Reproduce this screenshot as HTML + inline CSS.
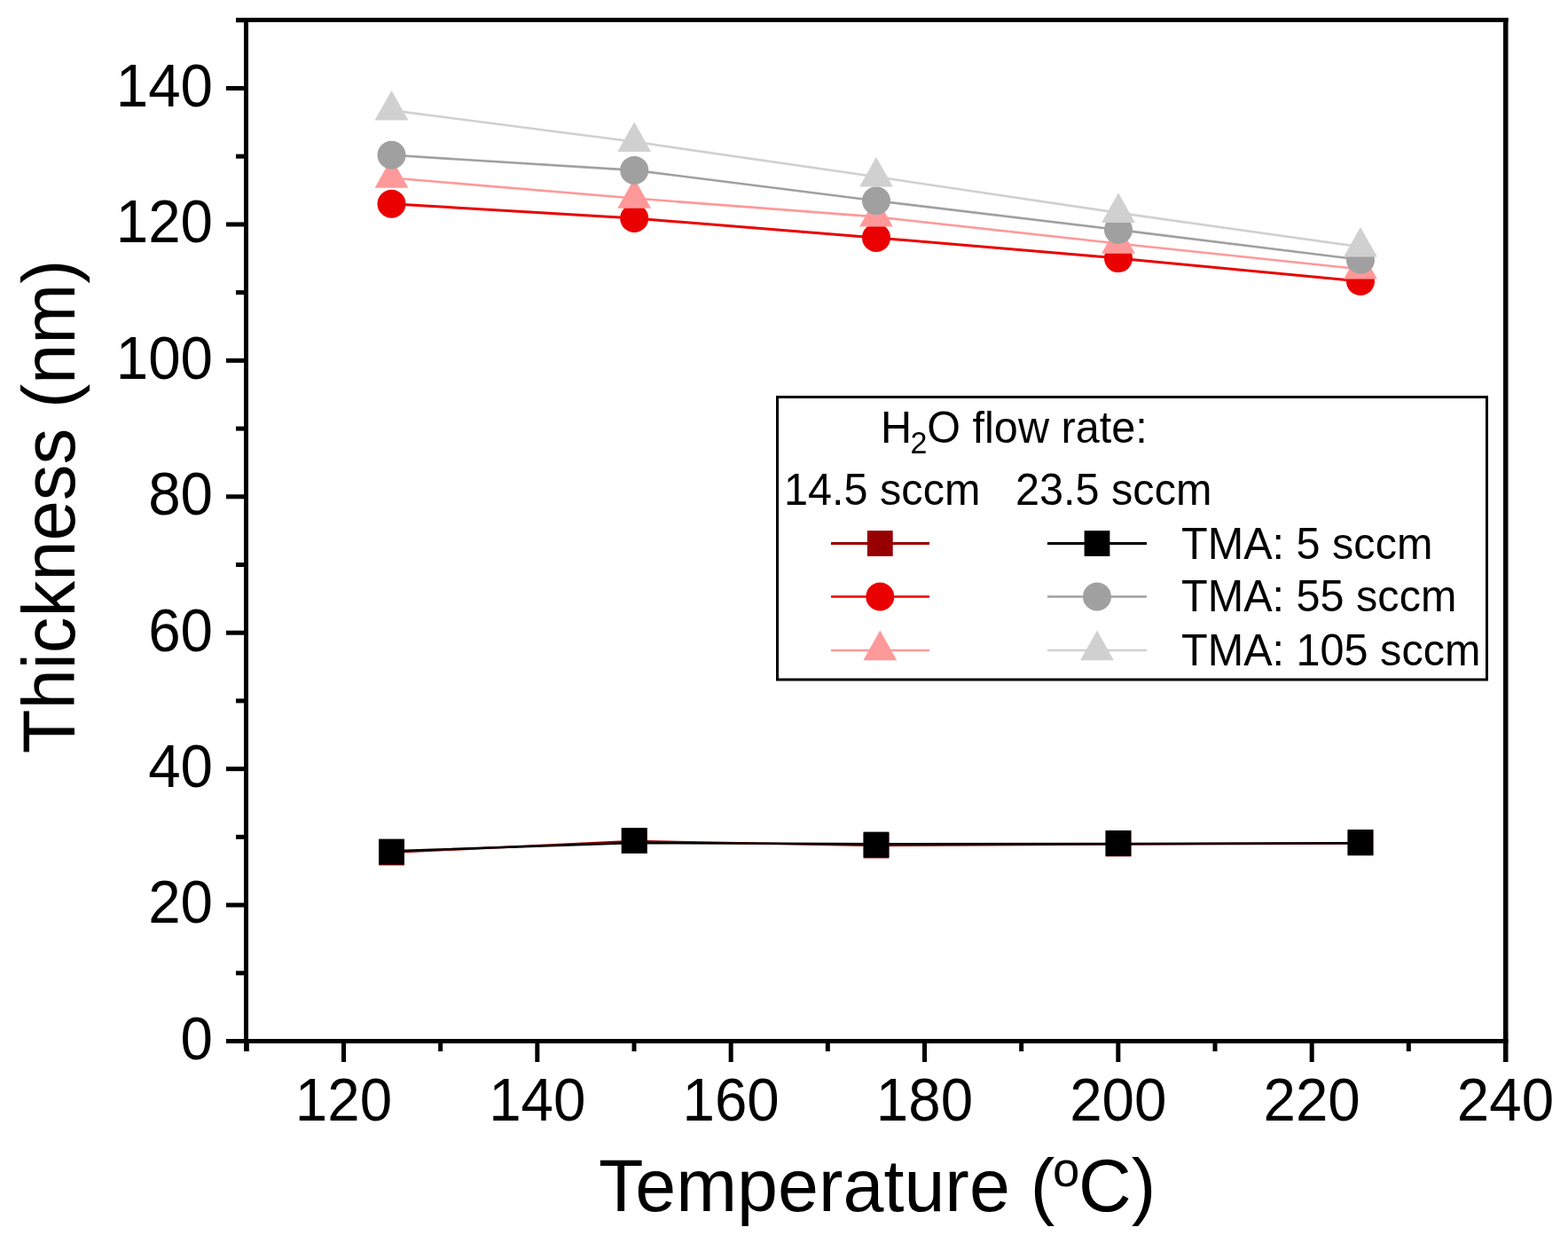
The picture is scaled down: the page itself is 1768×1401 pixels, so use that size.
<!DOCTYPE html><html><head><meta charset="utf-8"><title>Thickness vs Temperature</title><style>html,body{margin:0;padding:0;background:#fff;overflow:hidden;}svg{display:block;}text{font-family:"Liberation Sans",Arial,sans-serif;fill:#000;}</style></head><body>
<svg width="1768" height="1401" viewBox="0 0 1768 1401">
<rect x="0" y="0" width="1768" height="1401" fill="#fff"/>
<polyline points="441.50,960.80 715.20,948.00 988.00,953.00 1261.00,951.50 1534.00,950.50" fill="none" stroke="#960000" stroke-width="2.4" stroke-linejoin="round"/>
<rect x="427.10" y="946.60" width="28.80" height="28.80" fill="#960000"/>
<rect x="700.80" y="933.10" width="28.80" height="28.80" fill="#960000"/>
<rect x="973.60" y="938.60" width="28.80" height="28.80" fill="#960000"/>
<rect x="1246.60" y="936.60" width="28.80" height="28.80" fill="#960000"/>
<rect x="1519.60" y="935.60" width="28.80" height="28.80" fill="#960000"/>
<polyline points="441.50,229.80 715.20,246.00 988.00,267.90 1261.00,291.10 1534.00,317.00" fill="none" stroke="#EA0000" stroke-width="3" stroke-linejoin="round"/>
<circle cx="441.50" cy="229.80" r="16" fill="#EA0000"/>
<circle cx="715.20" cy="246.00" r="16" fill="#EA0000"/>
<circle cx="988.00" cy="267.90" r="16" fill="#EA0000"/>
<circle cx="1261.00" cy="291.10" r="16" fill="#EA0000"/>
<circle cx="1534.00" cy="317.00" r="16" fill="#EA0000"/>
<polyline points="441.50,200.50 715.20,223.50 988.00,244.40 1261.00,274.50 1534.00,303.40" fill="none" stroke="#FF9999" stroke-width="2.6" stroke-linejoin="round"/>
<polygon points="441.50,178.10 460.40,211.70 422.60,211.70" fill="#FF9999"/>
<polygon points="715.20,201.10 734.10,234.70 696.30,234.70" fill="#FF9999"/>
<polygon points="988.00,222.00 1006.90,255.60 969.10,255.60" fill="#FF9999"/>
<polygon points="1261.00,252.10 1279.90,285.70 1242.10,285.70" fill="#FF9999"/>
<polygon points="1534.00,281.00 1552.90,314.60 1515.10,314.60" fill="#FF9999"/>
<polyline points="441.50,959.30 715.20,950.00 988.00,951.20 1261.00,951.00 1534.00,950.30" fill="none" stroke="#000000" stroke-width="2.4" stroke-linejoin="round"/>
<rect x="427.10" y="945.60" width="28.80" height="28.80" fill="#000000"/>
<rect x="700.80" y="933.10" width="28.80" height="28.80" fill="#000000"/>
<rect x="973.60" y="937.60" width="28.80" height="28.80" fill="#000000"/>
<rect x="1246.60" y="936.00" width="28.80" height="28.80" fill="#000000"/>
<rect x="1519.60" y="935.00" width="28.80" height="28.80" fill="#000000"/>
<polyline points="441.50,174.80 715.20,191.90 988.00,226.30 1261.00,259.00 1534.00,292.70" fill="none" stroke="#A0A0A0" stroke-width="2.6" stroke-linejoin="round"/>
<circle cx="441.50" cy="174.80" r="16" fill="#A0A0A0"/>
<circle cx="715.20" cy="191.90" r="16" fill="#A0A0A0"/>
<circle cx="988.00" cy="226.30" r="16" fill="#A0A0A0"/>
<circle cx="1261.00" cy="259.00" r="16" fill="#A0A0A0"/>
<circle cx="1534.00" cy="292.70" r="16" fill="#A0A0A0"/>
<polyline points="441.50,124.40 715.20,159.80 988.00,199.30 1261.00,239.90 1534.00,278.30" fill="none" stroke="#D0D0D0" stroke-width="2.6" stroke-linejoin="round"/>
<polygon points="441.50,102.00 460.40,135.60 422.60,135.60" fill="#D0D0D0"/>
<polygon points="715.20,137.40 734.10,171.00 696.30,171.00" fill="#D0D0D0"/>
<polygon points="988.00,176.90 1006.90,210.50 969.10,210.50" fill="#D0D0D0"/>
<polygon points="1261.00,217.50 1279.90,251.10 1242.10,251.10" fill="#D0D0D0"/>
<polygon points="1534.00,255.90 1552.90,289.50 1515.10,289.50" fill="#D0D0D0"/>
<rect x="275" y="20" width="5" height="1165" fill="#000"/>
<rect x="266" y="20" width="1434.5" height="5" fill="#000"/>
<rect x="1695" y="20" width="5.5" height="1177" fill="#000"/>
<rect x="255" y="1171" width="1445.5" height="5" fill="#000"/>
<rect x="255" y="1171.00" width="22" height="5" fill="#000"/>
<rect x="266" y="1094.29" width="11" height="5" fill="#000"/>
<rect x="255" y="1017.57" width="22" height="5" fill="#000"/>
<rect x="266" y="940.86" width="11" height="5" fill="#000"/>
<rect x="255" y="864.14" width="22" height="5" fill="#000"/>
<rect x="266" y="787.43" width="11" height="5" fill="#000"/>
<rect x="255" y="710.71" width="22" height="5" fill="#000"/>
<rect x="266" y="634.00" width="11" height="5" fill="#000"/>
<rect x="255" y="557.29" width="22" height="5" fill="#000"/>
<rect x="266" y="480.57" width="11" height="5" fill="#000"/>
<rect x="255" y="403.86" width="22" height="5" fill="#000"/>
<rect x="266" y="327.14" width="11" height="5" fill="#000"/>
<rect x="255" y="250.43" width="22" height="5" fill="#000"/>
<rect x="266" y="173.71" width="11" height="5" fill="#000"/>
<rect x="255" y="97.00" width="22" height="5" fill="#000"/>
<rect x="266" y="20.29" width="11" height="5" fill="#000"/>
<rect x="275.83" y="1173" width="5" height="12" fill="#000"/>
<rect x="385.00" y="1173" width="5" height="24" fill="#000"/>
<rect x="494.17" y="1173" width="5" height="12" fill="#000"/>
<rect x="603.33" y="1173" width="5" height="24" fill="#000"/>
<rect x="712.50" y="1173" width="5" height="12" fill="#000"/>
<rect x="821.67" y="1173" width="5" height="24" fill="#000"/>
<rect x="930.83" y="1173" width="5" height="12" fill="#000"/>
<rect x="1040.00" y="1173" width="5" height="24" fill="#000"/>
<rect x="1149.17" y="1173" width="5" height="12" fill="#000"/>
<rect x="1258.33" y="1173" width="5" height="24" fill="#000"/>
<rect x="1367.50" y="1173" width="5" height="12" fill="#000"/>
<rect x="1476.67" y="1173" width="5" height="24" fill="#000"/>
<rect x="1585.83" y="1173" width="5" height="12" fill="#000"/>
<rect x="1695.00" y="1173" width="5" height="24" fill="#000"/>
<text transform="translate(240.00,1193.80) scale(1,1.045)" font-size="65.5" text-anchor="end">0</text>
<text transform="translate(240.00,1040.37) scale(1,1.045)" font-size="65.5" text-anchor="end">20</text>
<text transform="translate(240.00,886.94) scale(1,1.045)" font-size="65.5" text-anchor="end">40</text>
<text transform="translate(240.00,733.51) scale(1,1.045)" font-size="65.5" text-anchor="end">60</text>
<text transform="translate(240.00,580.09) scale(1,1.045)" font-size="65.5" text-anchor="end">80</text>
<text transform="translate(240.00,426.66) scale(1,1.045)" font-size="65.5" text-anchor="end">100</text>
<text transform="translate(240.00,273.23) scale(1,1.045)" font-size="65.5" text-anchor="end">120</text>
<text transform="translate(240.00,119.80) scale(1,1.045)" font-size="65.5" text-anchor="end">140</text>
<text transform="translate(387.50,1263.00) scale(1,1.045)" font-size="65.5" text-anchor="middle">120</text>
<text transform="translate(605.83,1263.00) scale(1,1.045)" font-size="65.5" text-anchor="middle">140</text>
<text transform="translate(824.17,1263.00) scale(1,1.045)" font-size="65.5" text-anchor="middle">160</text>
<text transform="translate(1042.50,1263.00) scale(1,1.045)" font-size="65.5" text-anchor="middle">180</text>
<text transform="translate(1260.83,1263.00) scale(1,1.045)" font-size="65.5" text-anchor="middle">200</text>
<text transform="translate(1479.17,1263.00) scale(1,1.045)" font-size="65.5" text-anchor="middle">220</text>
<text transform="translate(1697.50,1263.00) scale(1,1.045)" font-size="65.5" text-anchor="middle">240</text>
<text transform="translate(84.00,571.00) rotate(-90) scale(1,1.035)" font-size="81.45" text-anchor="middle">Thickness (nm)</text>
<text transform="translate(0,1365) scale(1,1.012)" font-size="82.65"><tspan x="675.0">Temperature (</tspan><tspan x="1187.0" y="-28" font-size="54.5">o</tspan><tspan x="1216.0" y="0">C)</tspan></text>
<rect x="876.5" y="447.5" width="800" height="318.5" fill="#fff" stroke="#000" stroke-width="3"/>
<text transform="translate(0,498.5) scale(1,1.033)" font-size="48.6"><tspan x="993.0">H</tspan><tspan x="1026.5" y="12.5" font-size="34">2</tspan><tspan x="1045.3" y="0">O flow rate:</tspan></text>
<text transform="translate(884.00,569.10) scale(1,1.033)" font-size="48.6">14.5 sccm</text>
<text transform="translate(1145.00,568.50) scale(1,1.033)" font-size="48.6">23.5 sccm</text>
<line x1="937" y1="612.5" x2="1048" y2="612.5" stroke="#960000" stroke-width="3"/>
<rect x="977.90" y="598.10" width="28.80" height="28.80" fill="#960000"/>
<line x1="937" y1="672.5" x2="1048" y2="672.5" stroke="#EA0000" stroke-width="2.6"/>
<circle cx="992.30" cy="672.50" r="16" fill="#EA0000"/>
<line x1="937" y1="733" x2="1048" y2="733" stroke="#FF9999" stroke-width="2.6"/>
<polygon points="992.30,710.60 1011.20,744.20 973.40,744.20" fill="#FF9999"/>
<line x1="1181" y1="612.5" x2="1293" y2="612.5" stroke="#000000" stroke-width="3"/>
<rect x="1222.60" y="598.10" width="28.80" height="28.80" fill="#000000"/>
<line x1="1181" y1="672.5" x2="1293" y2="672.5" stroke="#A0A0A0" stroke-width="2.6"/>
<circle cx="1237.00" cy="672.50" r="16" fill="#A0A0A0"/>
<line x1="1181" y1="733" x2="1293" y2="733" stroke="#D0D0D0" stroke-width="2.6"/>
<polygon points="1237.00,710.60 1255.90,744.20 1218.10,744.20" fill="#D0D0D0"/>
<text transform="translate(1332.00,629.60) scale(1,1.033)" font-size="48.6">TMA: 5 sccm</text>
<text transform="translate(1332.00,689.30) scale(1,1.033)" font-size="48.6">TMA: 55 sccm</text>
<text transform="translate(1332.00,750.00) scale(1,1.033)" font-size="48.6">TMA: 105 sccm</text>
</svg></body></html>
